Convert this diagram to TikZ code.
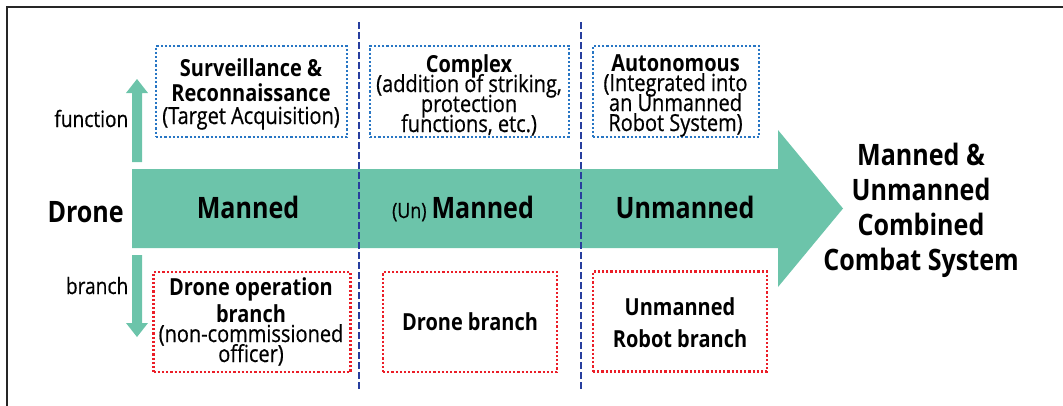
\documentclass[tikz,border=0pt]{standalone}
\usepackage{fontspec}
\setmainfont{Open Sans}[FakeStretch=0.85, UprightFeatures={FakeBold=0.6}]
\usetikzlibrary{positioning}

\definecolor{teal}{RGB}{108,196,170}
\definecolor{funcblue}{RGB}{40,118,196}
\definecolor{branchred}{RGB}{235,30,40}
\definecolor{divider}{RGB}{40,62,158}

\newcommand{\tightlines}{\lineskiplimit=-50pt\relax\lineskip=0pt\relax}

\tikzset{
  big/.style={font={\bfseries\fontsize{29.5}{35}\selectfont\tightlines}, inner sep=0pt},
  side/.style={font={\fontsize{22.5}{24}\selectfont}, inner sep=0pt},
  boxtext/.style={font={\fontsize{23.5}{20}\selectfont\tightlines}, align=center, inner sep=0pt},
  funcbox/.style={draw=funcblue, line width=2.2pt, dash pattern=on 2.2pt off 2pt, minimum width=#1, minimum height=91pt, inner sep=0pt},
  branchbox/.style={draw=branchred, line width=2.2pt, dash pattern=on 2.2pt off 2pt, minimum width=#1, minimum height=100pt, inner sep=0pt},
  divline/.style={draw=divider, line width=2.4pt, dash pattern=on 7pt off 3pt},
}

\begin{document}
\begin{tikzpicture}[x=1pt, y=-1pt]
  \useasboundingbox (0,0) rectangle (1063,405);
  % frame
  \draw[line width=2pt, black!85] (1064,6.5) -- (6.5,6.5) -- (6.5,406);

  % main development arrow
  \fill[teal] (132,169) -- (778,169) -- (778,130) -- (843,208.5)
              -- (778,287) -- (778,248) -- (132,248) -- cycle;

  % function (up) and branch (down) arrows
  \fill[teal] (132,162) -- (132,93) -- (126,93) -- (137,79) -- (148,93)
              -- (142,93) -- (142,162) -- cycle;
  \fill[teal] (132,255) -- (132,323) -- (126,323) -- (137,337) -- (148,323)
              -- (142,323) -- (142,255) -- cycle;

  % stage dividers
  \coordinate (d1t) at (359,22);  \coordinate (d1b) at (359,390);
  \coordinate (d2t) at (581,22);  \coordinate (d2b) at (581,392);
  \draw[divline] (d1t) -- (d1b);
  \draw[divline] (d2t) -- (d2b);

  % left labels
  \node[big, anchor=base east] (drone) at (124,222) {Drone};
  \node[side, anchor=base east] (func) at (128.5,127) {function};
  \node[side, anchor=base east] (brlab) at (128.5,294) {branch};

  % stage labels on the arrow
  \node[big, anchor=base] (manned) at (248,218) {Manned};
  \node[big, anchor=base] (unmanned1) at (463,218)
       {{\mdseries\fontsize{21}{21}\selectfont(Un)}\,Manned};
  \node[big, anchor=base] (unmanned2) at (685,218) {Unmanned};

  % goal (anchored on the baseline of its last line)
  \node[big, align=center, anchor=base] (goal) at (921,270)
       {Manned \&\\Unmanned\\Combined\\Combat System};

  % function boxes
  \node[funcbox=191pt] (f1) at (251.5,91.5) {};
  \node[funcbox=199pt] (f2) at (469.5,91.5) {};
  \node[funcbox=166pt] (f3) at (676,91.5) {};

  \node[boxtext, anchor=base, font={\fontsize{23.5}{24.5}\selectfont\tightlines}] (f1t) at (251,124)
       {\textbf{Surveillance \&}\\\textbf{Reconnaissance}\\[-1.5pt](Target Acquisition)};
  \node[boxtext, anchor=base] (f2t) at (469,132)
       {\textbf{Complex}\\(addition of striking,\\protection\\functions, etc.)};
  \node[boxtext, anchor=base] (f3t) at (675.5,131)
       {\textbf{Autonomous}\\(Integrated into\\an Unmanned\\Robot System)};

  % branch boxes
  \node[branchbox=197pt] (b1) at (252,322) {};
  \node[branchbox=174pt] (b2) at (470,322) {};
  \node[branchbox=174pt] (b3) at (680,321.5) {};

  \node[boxtext, anchor=base] (b1t) at (251,362)
       {\textbf{Drone operation}\\[7pt]\textbf{branch}\\(non-commissioned\\officer)};
  \node[boxtext, anchor=base] (b2t) at (470,330) {\textbf{Drone branch}};
  \node[boxtext, anchor=base] (b3t) at (680,347)
       {\textbf{Unmanned}\\[12pt]\textbf{Robot branch}};
\end{tikzpicture}
\end{document}
